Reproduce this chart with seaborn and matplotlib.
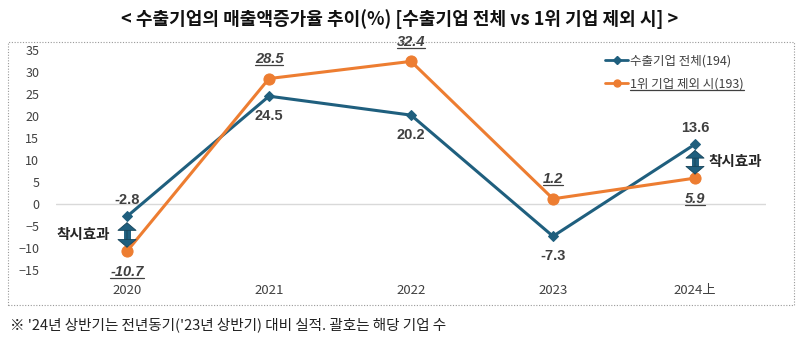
import matplotlib
matplotlib.use("Agg")
import matplotlib.pyplot as plt
import seaborn as sns
import pandas as pd
from matplotlib.patches import Rectangle
from matplotlib.lines import Line2D

years = ["2020", "2021", "2022", "2023", "2024上"]
all_firms = [-2.8, 24.5, 20.2, -7.3, 13.6]
excl_top = [-10.7, 28.5, 32.4, 1.2, 5.9]
name_all = "수출기업 전체(194)"
name_excl = "1위 기업 제외 시(193)"
title = "< 수출기업의 매출액증가율 추이(%) [수출기업 전체 vs 1위 기업 제외 시] >"
footnote = "※ '24년 상반기는 전년동기('23년 상반기) 대비 실적. 괄호는 해당 기업 수"
effect_label = "착시효과"
yticks = [-15, -10, -5, 0, 5, 10, 15, 20, 25, 30, 35]

sns.set_style("white")
plt.rcParams['font.family'] = ['Noto Sans CJK KR', 'DejaVu Sans']

BLUE = "#1F5F7E"
ORANGE = "#ED7D31"
TXT = "#404040"

df = pd.DataFrame({"year": years * 2,
                   "x": list(range(len(years))) * 2,
                   "value": all_firms + excl_top,
                   "series": [name_all] * len(years) + [name_excl] * len(years)})

fig = plt.figure(figsize=(8, 3.42), dpi=100)
ax = fig.add_axes([0.07, 0.21, 0.8875, 0.644])

sns.lineplot(data=df[df.series == name_all], x="x", y="value", ax=ax, color=BLUE,
             marker="D", markersize=5, linewidth=2.2, markeredgecolor=BLUE)
sns.lineplot(data=df[df.series == name_excl], x="x", y="value", ax=ax, color=ORANGE,
             marker="o", markersize=8, linewidth=2.2, markeredgecolor=ORANGE)

ax.set_xlim(-0.5, len(years) - 0.5)
ax.set_ylim(-15, 35)
ax.set_yticks(yticks)
ax.set_xticks(range(len(years)))
ax.set_xticklabels(years)
ax.set_xlabel("")
ax.set_ylabel("")
ax.tick_params(axis='y', labelsize=9, colors=TXT, length=0, pad=12)
ax.tick_params(axis='x', labelsize=9.5, colors=TXT, length=0, pad=10)
for s in ax.spines.values():
    s.set_visible(False)
ax.axhline(0, color="#D9D9D9", lw=1, zorder=0)

NUMFONT = ['Liberation Sans', 'DejaVu Sans']
# data labels
blue_pos = ["above", "below", "below", "below", "above"]
orange_pos = ["below", "above", "above", "above", "below"]
for i, (v, p) in enumerate(zip(all_firms, blue_pos)):
    off = 12 if p == "above" else -14
    ax.annotate(f"{v}", (i, v), xytext=(0, off), textcoords="offset points",
                ha="center", va="center", fontsize=10.5, fontweight="bold", color=TXT,
                family=NUMFONT)
underline_texts = []
for i, (v, p) in enumerate(zip(excl_top, orange_pos)):
    off = 14 if p == "above" else -15
    t = ax.annotate(f"{v}", (i, v), xytext=(0, off), textcoords="offset points",
                    ha="center", va="center", fontsize=10.5, fontweight="bold",
                    fontstyle="italic", color=TXT, family=NUMFONT)
    underline_texts.append(t)

# illusion-effect arrows
for idx, side in [(0, "left"), (4, "right")]:
    hi = max(all_firms[idx], excl_top[idx])
    lo = min(all_firms[idx], excl_top[idx])
    top = hi - 1.3
    bot = lo + 0.8
    ax.plot([idx, idx], [top - 1.0, bot + 1.0], color=BLUE, lw=5, solid_capstyle="butt", zorder=5)
    ax.annotate("", xy=(idx, bot), xytext=(idx, top),
                arrowprops=dict(arrowstyle="<|-|>,head_width=0.65,head_length=0.55",
                                mutation_scale=10, lw=0.6, color=BLUE, ec="#16445A",
                                shrinkA=0, shrinkB=0), zorder=6)
    mid = (hi + lo) / 2
    if side == "left":
        ax.annotate(effect_label, (idx, mid), xytext=(-12, 0), textcoords="offset points",
                    ha="right", va="center", fontsize=10.5, fontweight="bold", color="#262626")
    else:
        ax.annotate(effect_label, (idx, mid), xytext=(10, 0), textcoords="offset points",
                    ha="left", va="center", fontsize=10.5, fontweight="bold", color="#262626")

# legend
h1 = Line2D([], [], color=BLUE, marker="D", markersize=4, lw=2)
h2 = Line2D([], [], color=ORANGE, marker="o", markersize=5, lw=2)
leg = ax.legend([h1, h2], [name_all, name_excl], loc="upper right",
                bbox_to_anchor=(0.985, 1.03), frameon=False, fontsize=9,
                handlelength=1.8, handletextpad=0.2, labelspacing=0.8)
for t in leg.get_texts():
    t.set_color("#404040")
underline_texts.append(leg.get_texts()[1])

# title, border, footnote
fig.text(0.5, 0.945, title, ha="center", va="center", fontsize=13, fontweight="bold", color="#111111")
fig.patches.append(Rectangle((0.01, 0.108), 0.982, 0.77, transform=fig.transFigure,
                             fill=False, ls=(0, (1, 1.5)), lw=0.8, ec="#999999"))
fig.text(0.013, 0.05, footnote, ha="left", va="center", fontsize=10.5, color="#222222")

# underlines
fig.canvas.draw()
r = fig.canvas.get_renderer()
inv = fig.transFigure.inverted()
for t in underline_texts:
    bb = t.get_window_extent(r)
    (x0, y0) = inv.transform((bb.x0, bb.y0 + 1))
    (x1, _) = inv.transform((bb.x1, bb.y0 + 1))
    fig.lines.append(Line2D([x0, x1], [y0, y0], transform=fig.transFigure, color="#404040", lw=0.9))

fig.savefig("out.png", dpi=100, facecolor="white")
